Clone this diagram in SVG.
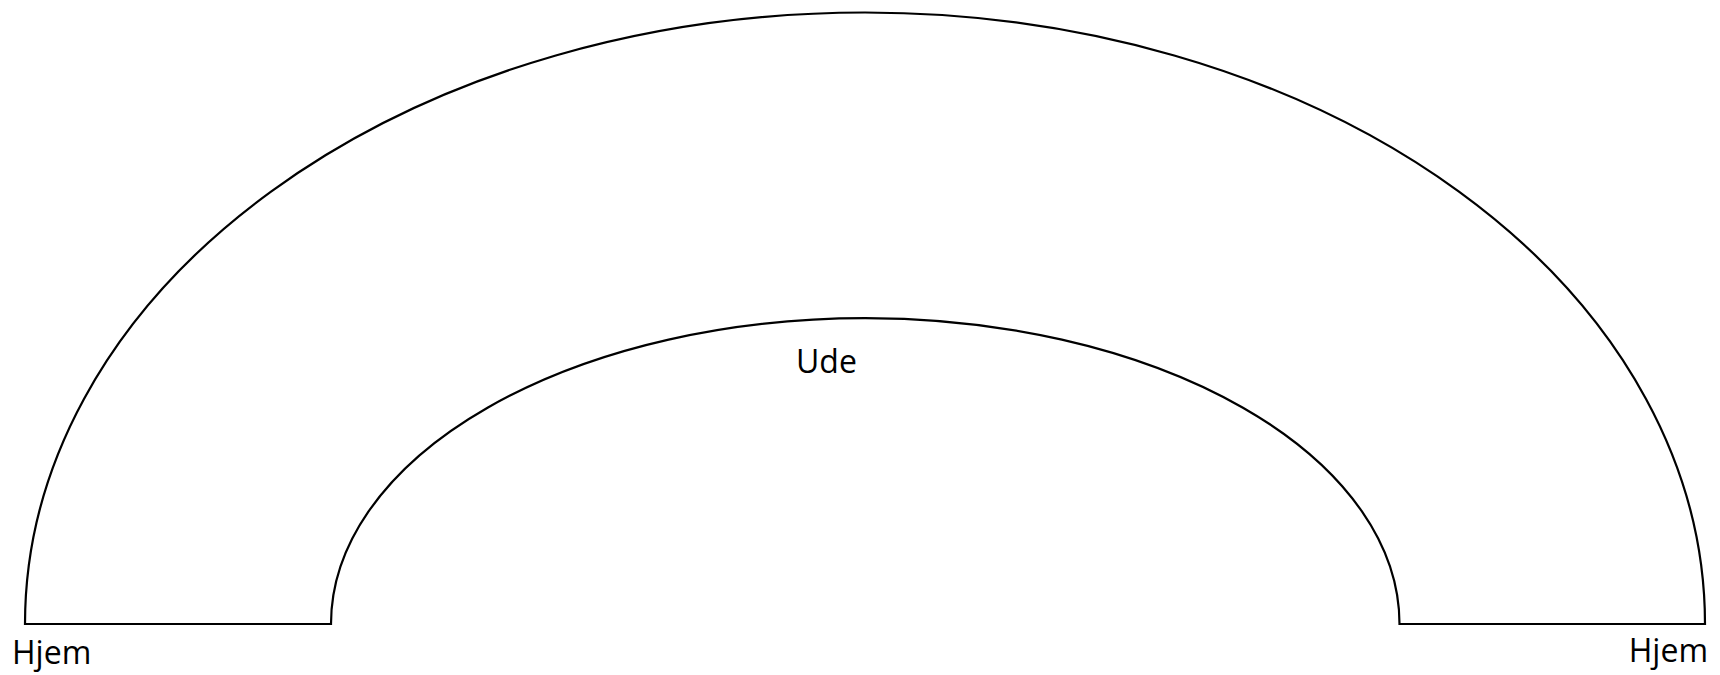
<svg xmlns="http://www.w3.org/2000/svg" width="1720" height="675" viewBox="0 0 1720 675">
<style>
.lbl{font-family:"Open Sans","Noto Sans",sans-serif;font-size:32px;fill:#000}
.shape{fill:#fff;stroke:#000;stroke-width:2.2}
</style>
<rect width="1720" height="675" fill="#fff"/>
<g id="arch">
<path class="shape" d="M 25 624 A 840 611.5 0 0 1 1705 624 L 1399.5 624 A 534.25 306 0 0 0 331 624 Z"/>
</g>
<g id="ude"><text class="lbl" x="796" y="373">Ude</text></g>
<g id="hjem-left"><text class="lbl" x="12" y="663.5">Hjem</text></g>
<g id="hjem-right"><text class="lbl" x="1708" y="662" text-anchor="end">Hjem</text></g>
<g id="connectors"></g>
</svg>
